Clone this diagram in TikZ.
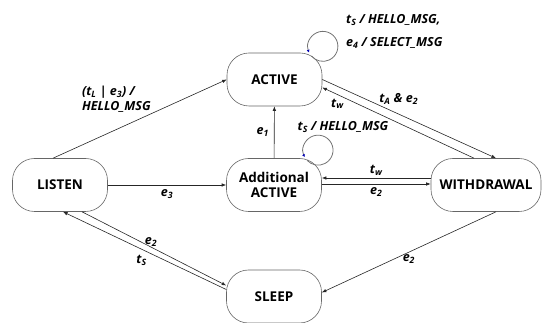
\documentclass[tikz,border=0pt]{standalone}
\usepackage{fontspec}
\setmainfont{Open Sans}
\usepackage{tikz}
\usetikzlibrary{positioning, arrows.meta}

\newcommand{\sbs}[2]{#1\textsubscript{#2}}

\begin{document}
\begin{tikzpicture}[
  x=1pt, y=1pt,
  >={Latex[length=4.5pt,width=3.5pt]},
  every node/.style={font=\bfseries\fontsize{13.5}{15}\selectfont}
]
\tikzset{
  stbox/.style  ={draw=black!60, line width=0.6pt, rounded corners=22pt,
                  align=center, inner sep=2pt,
                  minimum width=95pt, minimum height=53pt},
  arr/.style    ={->, line width=0.6pt, draw=black!85},
  selfarr/.style={{Latex[length=3pt,width=3pt,color=blue!70!black]}-,
                  line width=0.8pt, draw=black!55},
  lab/.style    ={font=\bfseries\itshape\fontsize{12.5}{15}\selectfont,
                  inner sep=1pt}
}
\useasboundingbox (0,0) rectangle (548,323);

%% ----- States -----
\node[stbox] (active) at (274.5,243.5) {ACTIVE};
\node[stbox] (addl)   at (274,138)     {Additional\\ACTIVE};
\node[stbox] (listen) at (60,138)      {LISTEN};
\node[stbox, minimum width=110pt] (withdr) at (486,138) {WITHDRAWAL};
\node[stbox] (sleep)  at (274,26.5)    {SLEEP};

%% ----- LISTEN -> ACTIVE / Additional ACTIVE -----
\draw[arr] ([xshift=-7pt]listen.north) -- (active.west)
  node[lab, align=left, anchor=south east, pos=0.57]
  {(\sbs{t}{L} | \sbs{e}{3}) /\\HELLO\_MSG};
\draw[arr] (listen) -- (addl)
  node[lab, midway, below=3pt] {\sbs{e}{3}};
\draw[arr] (addl) -- (active)
  node[lab, midway, left=4pt] {\sbs{e}{1}};

%% ----- ACTIVE <-> WITHDRAWAL -----
\draw[arr] (active.east) -- ([xshift=10pt]withdr.north)
  node[lab, pos=0.44, above=8pt] {\sbs{t}{A} \& \sbs{e}{2}};
\draw[arr] ([xshift=-12pt]withdr.north) -- ([yshift=-8pt]active.east)
  node[lab, pos=0.9, below=3pt] {\sbs{t}{w}};

%% ----- Additional ACTIVE <-> WITHDRAWAL -----
\draw[arr] ([yshift=7pt]withdr.west) -- ([yshift=7pt]addl.east)
  node[lab, midway, above=1pt] {\sbs{t}{w}};
\draw[arr] ([yshift=1pt]addl.east) -- ([yshift=1pt]withdr.west)
  node[lab, midway, below=2pt] {\sbs{e}{2}};

%% ----- to / from SLEEP -----
\draw[arr] ([xshift=10pt]withdr.south) -- ([yshift=4pt]sleep.east)
  node[lab, midway, below=1pt] {\sbs{e}{2}};
\draw[arr] ([xshift=22pt]listen.south) -- ([yshift=11pt]sleep.west)
  node[lab, midway, above=1pt, xshift=-3pt] {\sbs{e}{2}};
\draw[arr] ([yshift=7pt]sleep.west) -- ([xshift=3pt]listen.south)
  node[lab, midway, below=3pt, xshift=-3pt] {\sbs{t}{S}};

%% ----- Self loops -----
\coordinate (aloop) at ([xshift=-13pt]active.north east);
\draw[selfarr] (aloop) arc[start angle=205, end angle=-140, radius=15pt];
\node[lab, align=left, anchor=west] (aloopl) at (345,291.5)
  {\sbs{t}{S} / HELLO\_MSG,\\[8pt]\sbs{e}{4} / SELECT\_MSG};

\coordinate (bloop) at ([xshift=-17pt,yshift=1pt]addl.north east);
\draw[selfarr] (bloop) arc[start angle=208, end angle=-137, radius=15pt];
\node[lab] (bloopl) at (343,196) {\sbs{t}{S} / HELLO\_MSG};

\end{tikzpicture}
\end{document}
